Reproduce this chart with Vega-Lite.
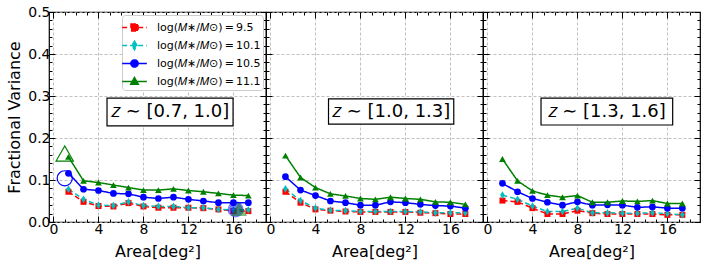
{
  "$schema": "https://vega.github.io/schema/vega-lite/v6.json",
  "padding": {"left": 6, "top": 4, "right": 2, "bottom": 2},
  "spacing": 0,
  "bounds": "flush",
  "datasets": {
    "d": [
      {"p":1,"m":"9.5","x":1.33,"y":0.072},{"p":1,"m":"9.5","x":2.67,"y":0.048},{"p":1,"m":"9.5","x":4,"y":0.038},{"p":1,"m":"9.5","x":5.33,"y":0.037},{"p":1,"m":"9.5","x":6.67,"y":0.045},{"p":1,"m":"9.5","x":8,"y":0.037},{"p":1,"m":"9.5","x":9.33,"y":0.034},{"p":1,"m":"9.5","x":10.67,"y":0.034},{"p":1,"m":"9.5","x":12,"y":0.034},{"p":1,"m":"9.5","x":13.33,"y":0.033},{"p":1,"m":"9.5","x":14.67,"y":0.030},{"p":1,"m":"9.5","x":16,"y":0.026},{"p":1,"m":"9.5","x":17.33,"y":0.026},
      {"p":1,"m":"10.1","x":1.33,"y":0.078},{"p":1,"m":"10.1","x":2.67,"y":0.054},{"p":1,"m":"10.1","x":4,"y":0.040},{"p":1,"m":"10.1","x":5.33,"y":0.039},{"p":1,"m":"10.1","x":6.67,"y":0.048},{"p":1,"m":"10.1","x":8,"y":0.039},{"p":1,"m":"10.1","x":9.33,"y":0.037},{"p":1,"m":"10.1","x":10.67,"y":0.037},{"p":1,"m":"10.1","x":12,"y":0.034},{"p":1,"m":"10.1","x":13.33,"y":0.034},{"p":1,"m":"10.1","x":14.67,"y":0.030},{"p":1,"m":"10.1","x":16,"y":0.029},{"p":1,"m":"10.1","x":17.33,"y":0.029},
      {"p":1,"m":"10.5","x":1.33,"y":0.116},{"p":1,"m":"10.5","x":2.67,"y":0.078},{"p":1,"m":"10.5","x":4,"y":0.075},{"p":1,"m":"10.5","x":5.33,"y":0.068},{"p":1,"m":"10.5","x":6.67,"y":0.067},{"p":1,"m":"10.5","x":8,"y":0.059},{"p":1,"m":"10.5","x":9.33,"y":0.056},{"p":1,"m":"10.5","x":10.67,"y":0.059},{"p":1,"m":"10.5","x":12,"y":0.054},{"p":1,"m":"10.5","x":13.33,"y":0.050},{"p":1,"m":"10.5","x":14.67,"y":0.046},{"p":1,"m":"10.5","x":16,"y":0.046},{"p":1,"m":"10.5","x":17.33,"y":0.046},
      {"p":1,"m":"11.1","x":1.33,"y":0.155},{"p":1,"m":"11.1","x":2.67,"y":0.098},{"p":1,"m":"11.1","x":4,"y":0.094},{"p":1,"m":"11.1","x":5.33,"y":0.088},{"p":1,"m":"11.1","x":6.67,"y":0.082},{"p":1,"m":"11.1","x":8,"y":0.076},{"p":1,"m":"11.1","x":9.33,"y":0.076},{"p":1,"m":"11.1","x":10.67,"y":0.079},{"p":1,"m":"11.1","x":12,"y":0.075},{"p":1,"m":"11.1","x":13.33,"y":0.072},{"p":1,"m":"11.1","x":14.67,"y":0.068},{"p":1,"m":"11.1","x":16,"y":0.064},{"p":1,"m":"11.1","x":17.33,"y":0.063},
      {"p":2,"m":"9.5","x":1.33,"y":0.072},{"p":2,"m":"9.5","x":2.67,"y":0.046},{"p":2,"m":"9.5","x":4,"y":0.030},{"p":2,"m":"9.5","x":5.33,"y":0.027},{"p":2,"m":"9.5","x":6.67,"y":0.025},{"p":2,"m":"9.5","x":8,"y":0.024},{"p":2,"m":"9.5","x":9.33,"y":0.024},{"p":2,"m":"9.5","x":10.67,"y":0.024},{"p":2,"m":"9.5","x":12,"y":0.024},{"p":2,"m":"9.5","x":13.33,"y":0.022},{"p":2,"m":"9.5","x":14.67,"y":0.021},{"p":2,"m":"9.5","x":16,"y":0.019},{"p":2,"m":"9.5","x":17.33,"y":0.019},
      {"p":2,"m":"10.1","x":1.33,"y":0.079},{"p":2,"m":"10.1","x":2.67,"y":0.051},{"p":2,"m":"10.1","x":4,"y":0.033},{"p":2,"m":"10.1","x":5.33,"y":0.028},{"p":2,"m":"10.1","x":6.67,"y":0.027},{"p":2,"m":"10.1","x":8,"y":0.025},{"p":2,"m":"10.1","x":9.33,"y":0.025},{"p":2,"m":"10.1","x":10.67,"y":0.025},{"p":2,"m":"10.1","x":12,"y":0.025},{"p":2,"m":"10.1","x":13.33,"y":0.024},{"p":2,"m":"10.1","x":14.67,"y":0.022},{"p":2,"m":"10.1","x":16,"y":0.022},{"p":2,"m":"10.1","x":17.33,"y":0.022},
      {"p":2,"m":"10.5","x":1.33,"y":0.108},{"p":2,"m":"10.5","x":2.67,"y":0.076},{"p":2,"m":"10.5","x":4,"y":0.063},{"p":2,"m":"10.5","x":5.33,"y":0.050},{"p":2,"m":"10.5","x":6.67,"y":0.046},{"p":2,"m":"10.5","x":8,"y":0.040},{"p":2,"m":"10.5","x":9.33,"y":0.040},{"p":2,"m":"10.5","x":10.67,"y":0.048},{"p":2,"m":"10.5","x":12,"y":0.046},{"p":2,"m":"10.5","x":13.33,"y":0.042},{"p":2,"m":"10.5","x":14.67,"y":0.039},{"p":2,"m":"10.5","x":16,"y":0.038},{"p":2,"m":"10.5","x":17.33,"y":0.033},
      {"p":2,"m":"11.1","x":1.33,"y":0.158},{"p":2,"m":"11.1","x":2.67,"y":0.106},{"p":2,"m":"11.1","x":4,"y":0.082},{"p":2,"m":"11.1","x":5.33,"y":0.067},{"p":2,"m":"11.1","x":6.67,"y":0.062},{"p":2,"m":"11.1","x":8,"y":0.056},{"p":2,"m":"11.1","x":9.33,"y":0.054},{"p":2,"m":"11.1","x":10.67,"y":0.059},{"p":2,"m":"11.1","x":12,"y":0.056},{"p":2,"m":"11.1","x":13.33,"y":0.054},{"p":2,"m":"11.1","x":14.67,"y":0.048},{"p":2,"m":"11.1","x":16,"y":0.047},{"p":2,"m":"11.1","x":17.33,"y":0.042},
      {"p":3,"m":"9.5","x":1.33,"y":0.051},{"p":3,"m":"9.5","x":2.67,"y":0.048},{"p":3,"m":"9.5","x":4,"y":0.033},{"p":3,"m":"9.5","x":5.33,"y":0.019},{"p":3,"m":"9.5","x":6.67,"y":0.019},{"p":3,"m":"9.5","x":8,"y":0.027},{"p":3,"m":"9.5","x":9.33,"y":0.021},{"p":3,"m":"9.5","x":10.67,"y":0.019},{"p":3,"m":"9.5","x":12,"y":0.019},{"p":3,"m":"9.5","x":13.33,"y":0.019},{"p":3,"m":"9.5","x":14.67,"y":0.019},{"p":3,"m":"9.5","x":16,"y":0.017},{"p":3,"m":"9.5","x":17.33,"y":0.017},
      {"p":3,"m":"10.1","x":1.33,"y":0.064},{"p":3,"m":"10.1","x":2.67,"y":0.054},{"p":3,"m":"10.1","x":4,"y":0.038},{"p":3,"m":"10.1","x":5.33,"y":0.025},{"p":3,"m":"10.1","x":6.67,"y":0.025},{"p":3,"m":"10.1","x":8,"y":0.033},{"p":3,"m":"10.1","x":9.33,"y":0.022},{"p":3,"m":"10.1","x":10.67,"y":0.022},{"p":3,"m":"10.1","x":12,"y":0.021},{"p":3,"m":"10.1","x":13.33,"y":0.021},{"p":3,"m":"10.1","x":14.67,"y":0.022},{"p":3,"m":"10.1","x":16,"y":0.020},{"p":3,"m":"10.1","x":17.33,"y":0.017},
      {"p":3,"m":"10.5","x":1.33,"y":0.092},{"p":3,"m":"10.5","x":2.67,"y":0.072},{"p":3,"m":"10.5","x":4,"y":0.056},{"p":3,"m":"10.5","x":5.33,"y":0.047},{"p":3,"m":"10.5","x":6.67,"y":0.040},{"p":3,"m":"10.5","x":8,"y":0.048},{"p":3,"m":"10.5","x":9.33,"y":0.040},{"p":3,"m":"10.5","x":10.67,"y":0.041},{"p":3,"m":"10.5","x":12,"y":0.040},{"p":3,"m":"10.5","x":13.33,"y":0.035},{"p":3,"m":"10.5","x":14.67,"y":0.036},{"p":3,"m":"10.5","x":16,"y":0.033},{"p":3,"m":"10.5","x":17.33,"y":0.033},
      {"p":3,"m":"11.1","x":1.33,"y":0.150},{"p":3,"m":"11.1","x":2.67,"y":0.098},{"p":3,"m":"11.1","x":4,"y":0.074},{"p":3,"m":"11.1","x":5.33,"y":0.064},{"p":3,"m":"11.1","x":6.67,"y":0.059},{"p":3,"m":"11.1","x":8,"y":0.063},{"p":3,"m":"11.1","x":9.33,"y":0.047},{"p":3,"m":"11.1","x":10.67,"y":0.047},{"p":3,"m":"11.1","x":12,"y":0.050},{"p":3,"m":"11.1","x":13.33,"y":0.049},{"p":3,"m":"11.1","x":14.67,"y":0.051},{"p":3,"m":"11.1","x":16,"y":0.044},{"p":3,"m":"11.1","x":17.33,"y":0.044}
    ],
    "big": [
      {"k":"tri_open","x":1.0,"y":0.163},
      {"k":"circ_open","x":1.0,"y":0.104},
      {"k":"circ_fill","x":16.2,"y":0.030},
      {"k":"tri_fill","x":16.5,"y":0.031}
    ]
  },
  "hconcat": [
    {
      "width": 217, "height": 210,
      "data": {"name": "d"},
      "transform": [{"filter": "datum.p == 1"}],
      "resolve": {"axis": {"x": "independent", "y": "independent"}},
      "layer": [
        {"mark": {"type": "point", "opacity": 0},
         "encoding": {
           "x": {"field": "x", "type": "quantitative", "scale": {"domain": [-0.4, 18.9], "nice": false, "zero": false},
                 "axis": {"orient": "bottom", "values": [0,4,8,12,16], "tickSize": -6, "labelPadding": 6, "grid": true, "title": "Area[deg²]", "titlePadding": 7}},
           "y": {"field": "y", "type": "quantitative", "scale": {"domain": [0, 0.5], "nice": false},
                 "axis": {"orient": "left", "values": [0,0.1,0.2,0.3,0.4,0.5], "format": ".1f", "tickSize": -6, "labelPadding": 5, "grid": true, "title": "Fractional Variance", "titlePadding": 5}}}},
        {"mark": {"type": "point", "opacity": 0},
         "encoding": {
           "x": {"field": "x", "type": "quantitative", "axis": {"orient": "bottom", "values": [0,1,2,3,4,5,6,7,8,9,10,11,12,13,14,15,16,17,18], "tickSize": -3, "labels": false, "grid": false, "title": null}},
           "y": {"field": "y", "type": "quantitative", "axis": {"orient": "left", "values": [0,0.02,0.04,0.06,0.08,0.1,0.12,0.14,0.16,0.18,0.2,0.22,0.24,0.26,0.28,0.3,0.32,0.34,0.36,0.38,0.4,0.42,0.44,0.46,0.48,0.5], "tickSize": -3, "labels": false, "grid": false, "title": null}}}},
        {"mark": {"type": "point", "opacity": 0},
         "encoding": {
           "x": {"field": "x", "type": "quantitative", "axis": {"orient": "top", "values": [0,4,8,12,16], "tickSize": -6, "labels": false, "grid": false, "title": null}},
           "y": {"field": "y", "type": "quantitative", "axis": {"orient": "right", "values": [0,0.1,0.2,0.3,0.4,0.5], "tickSize": -6, "labels": false, "grid": false, "title": null}}}},
        {"mark": {"type": "point", "opacity": 0},
         "encoding": {
           "x": {"field": "x", "type": "quantitative", "axis": {"orient": "top", "values": [0,1,2,3,4,5,6,7,8,9,10,11,12,13,14,15,16,17,18], "tickSize": -3, "labels": false, "grid": false, "title": null}},
           "y": {"field": "y", "type": "quantitative", "axis": {"orient": "right", "values": [0,0.02,0.04,0.06,0.08,0.1,0.12,0.14,0.16,0.18,0.2,0.22,0.24,0.26,0.28,0.3,0.32,0.34,0.36,0.38,0.4,0.42,0.44,0.46,0.48,0.5], "tickSize": -3, "labels": false, "grid": false, "title": null}}}},
        {"data": {"values": [{"label": "𝑧 ∼ [0.7, 1.0]"}]},
         "mark": {"type": "rect", "fill": "white", "stroke": "black", "strokeWidth": 1.2},
         "encoding": {"x": {"datum": 4.76, "type": "quantitative", "axis": null}, "x2": {"datum": 15.97}, "y": {"datum": 0.295, "type": "quantitative", "axis": null}, "y2": {"datum": 0.229}}},
        {"data": {"values": [{"label": "𝑧 ∼ [0.7, 1.0]"}]},
         "mark": {"type": "text", "fontSize": 18, "font": "DejaVu Sans", "color": "black", "align": "center", "baseline": "middle"},
         "encoding": {"x": {"datum": 10.37, "type": "quantitative", "axis": null}, "y": {"datum": 0.262, "type": "quantitative", "axis": null}, "text": {"field": "label"}}},
        {"mark": {"type": "line", "strokeWidth": 1.5},
         "encoding": {
           "x": {"field": "x", "type": "quantitative", "axis": null},
           "y": {"field": "y", "type": "quantitative", "axis": null},
           "color": {"field": "m", "type": "nominal", "scale": {"domain": ["9.5","10.1","10.5","11.1"], "range": ["#ff0000","#00bfbf","#0000ff","#008000"]},
             "legend": {"title": null, "orient": "top-right", "offset": 3, "padding": 2, "fillColor": "white", "strokeColor": "#cccccc", "cornerRadius": 3, "symbolSize": 361, "symbolStrokeWidth": 1.5, "labelFontSize": 11, "labelFont": "DejaVu Sans", "labelColor": "black", "labelOffset": 12, "rowPadding": 0,
               "labelExpr": "'log(𝑀∗/𝑀⊙)\u2009=\u2009' + datum.label",
               "encode": {"symbols": {"update": {
                 "shape": {"signal": "datum.value === '9.5' ? 'M-1.3,0H1.3M-0.37,-0.37H0.37V0.37H-0.37Z' : datum.value === '10.1' ? 'M-1.3,0H1.3M0,-0.45L0.27,0L0,0.45L-0.27,0Z' : datum.value === '10.5' ? 'M-1.3,0H1.3M-0.38,0A0.38,0.38 0 1,0 0.38,0A0.38,0.38 0 1,0 -0.38,0Z' : 'M-1.3,0H1.3M0,-0.42L0.4,0.3L-0.4,0.3Z'"},
                 "fill": {"signal": "datum.value === '9.5' ? '#ff0000' : datum.value === '10.1' ? '#00bfbf' : datum.value === '10.5' ? '#0000ff' : '#008000'"},
                 "fillOpacity": {"value": 1}}}}}},
           "strokeDash": {"field": "m", "type": "nominal", "scale": {"domain": ["9.5","10.1","10.5","11.1"], "range": [[5,3],[5,3],[1,0],[1,0]]}},
           "detail": {"field": "m"}}},
        {"transform": [{"filter": "datum.m == '9.5'"}],
         "mark": {"type": "point", "shape": "square", "filled": true, "color": "#ff0000", "size": 36, "opacity": 1},
         "encoding": {"x": {"field": "x", "type": "quantitative", "axis": null}, "y": {"field": "y", "type": "quantitative", "axis": null}}},
        {"transform": [{"filter": "datum.m == '10.1'"}],
         "mark": {"type": "point", "shape": "M0,-1L0.6,0L0,1L-0.6,0Z", "filled": true, "color": "#00bfbf", "size": 60, "opacity": 1},
         "encoding": {"x": {"field": "x", "type": "quantitative", "axis": null}, "y": {"field": "y", "type": "quantitative", "axis": null}}},
        {"transform": [{"filter": "datum.m == '10.5'"}],
         "mark": {"type": "point", "shape": "circle", "filled": true, "color": "#0000ff", "size": 45, "opacity": 1},
         "encoding": {"x": {"field": "x", "type": "quantitative", "axis": null}, "y": {"field": "y", "type": "quantitative", "axis": null}}},
        {"transform": [{"filter": "datum.m == '11.1'"}],
         "mark": {"type": "point", "shape": "triangle-up", "filled": true, "color": "#008000", "size": 45, "opacity": 1},
         "encoding": {"x": {"field": "x", "type": "quantitative", "axis": null}, "y": {"field": "y", "type": "quantitative", "axis": null}}},
        {"data": {"name": "big"}, "transform": [{"filter": "datum.k == 'tri_open'"}],
         "mark": {"type": "point", "shape": "triangle-up", "filled": false, "color": "#008000", "size": 300, "strokeWidth": 1.2, "opacity": 1},
         "encoding": {"x": {"field": "x", "type": "quantitative", "axis": null}, "y": {"field": "y", "type": "quantitative", "axis": null}}},
        {"data": {"name": "big"}, "transform": [{"filter": "datum.k == 'circ_open'"}],
         "mark": {"type": "point", "shape": "circle", "filled": false, "color": "#0000ff", "size": 230, "strokeWidth": 1.2, "opacity": 1},
         "encoding": {"x": {"field": "x", "type": "quantitative", "axis": null}, "y": {"field": "y", "type": "quantitative", "axis": null}}},
        {"data": {"name": "big"}, "transform": [{"filter": "datum.k == 'circ_fill'"}],
         "mark": {"type": "point", "shape": "circle", "filled": true, "color": "#0000ff", "size": 260, "opacity": 0.5},
         "encoding": {"x": {"field": "x", "type": "quantitative", "axis": null}, "y": {"field": "y", "type": "quantitative", "axis": null}}},
        {"data": {"name": "big"}, "transform": [{"filter": "datum.k == 'tri_fill'"}],
         "mark": {"type": "point", "shape": "triangle-up", "filled": true, "color": "#008000", "size": 260, "opacity": 0.5},
         "encoding": {"x": {"field": "x", "type": "quantitative", "axis": null}, "y": {"field": "y", "type": "quantitative", "axis": null}}}
      ]
    },
    {
      "width": 217, "height": 210,
      "data": {"name": "d"},
      "transform": [{"filter": "datum.p == 2"}],
      "resolve": {"axis": {"x": "independent", "y": "independent"}},
      "layer": [
        {"mark": {"type": "point", "opacity": 0},
         "encoding": {
           "x": {"field": "x", "type": "quantitative", "scale": {"domain": [-0.4, 18.9], "nice": false, "zero": false},
                 "axis": {"orient": "bottom", "values": [0,4,8,12,16], "tickSize": -6, "labelPadding": 6, "grid": true, "title": "Area[deg²]", "titlePadding": 7}},
           "y": {"field": "y", "type": "quantitative", "scale": {"domain": [0, 0.5], "nice": false},
                 "axis": {"orient": "left", "values": [0,0.1,0.2,0.3,0.4,0.5], "tickSize": -6, "labels": false, "grid": true, "title": null}}}},
        {"mark": {"type": "point", "opacity": 0},
         "encoding": {
           "x": {"field": "x", "type": "quantitative", "axis": {"orient": "bottom", "values": [0,1,2,3,4,5,6,7,8,9,10,11,12,13,14,15,16,17,18], "tickSize": -3, "labels": false, "grid": false, "title": null}},
           "y": {"field": "y", "type": "quantitative", "axis": {"orient": "left", "values": [0,0.02,0.04,0.06,0.08,0.1,0.12,0.14,0.16,0.18,0.2,0.22,0.24,0.26,0.28,0.3,0.32,0.34,0.36,0.38,0.4,0.42,0.44,0.46,0.48,0.5], "tickSize": -3, "labels": false, "grid": false, "title": null}}}},
        {"mark": {"type": "point", "opacity": 0},
         "encoding": {
           "x": {"field": "x", "type": "quantitative", "axis": {"orient": "top", "values": [0,4,8,12,16], "tickSize": -6, "labels": false, "grid": false, "title": null}},
           "y": {"field": "y", "type": "quantitative", "axis": {"orient": "right", "values": [0,0.1,0.2,0.3,0.4,0.5], "tickSize": -6, "labels": false, "grid": false, "title": null}}}},
        {"mark": {"type": "point", "opacity": 0},
         "encoding": {
           "x": {"field": "x", "type": "quantitative", "axis": {"orient": "top", "values": [0,1,2,3,4,5,6,7,8,9,10,11,12,13,14,15,16,17,18], "tickSize": -3, "labels": false, "grid": false, "title": null}},
           "y": {"field": "y", "type": "quantitative", "axis": {"orient": "right", "values": [0,0.02,0.04,0.06,0.08,0.1,0.12,0.14,0.16,0.18,0.2,0.22,0.24,0.26,0.28,0.3,0.32,0.34,0.36,0.38,0.4,0.42,0.44,0.46,0.48,0.5], "tickSize": -3, "labels": false, "grid": false, "title": null}}}},
        {"data": {"values": [{"label": "𝑧 ∼ [1.0, 1.3]"}]},
         "mark": {"type": "rect", "fill": "white", "stroke": "black", "strokeWidth": 1.2},
         "encoding": {"x": {"datum": 5.16, "type": "quantitative", "axis": null}, "x2": {"datum": 16.3}, "y": {"datum": 0.293, "type": "quantitative", "axis": null}, "y2": {"datum": 0.233}}},
        {"data": {"values": [{"label": "𝑧 ∼ [1.0, 1.3]"}]},
         "mark": {"type": "text", "fontSize": 18, "font": "DejaVu Sans", "color": "black", "align": "center", "baseline": "middle"},
         "encoding": {"x": {"datum": 10.73, "type": "quantitative", "axis": null}, "y": {"datum": 0.262, "type": "quantitative", "axis": null}, "text": {"field": "label"}}},
        {"mark": {"type": "line", "strokeWidth": 1.5},
         "encoding": {
           "x": {"field": "x", "type": "quantitative", "axis": null},
           "y": {"field": "y", "type": "quantitative", "axis": null},
           "color": {"field": "m", "type": "nominal", "scale": {"domain": ["9.5","10.1","10.5","11.1"], "range": ["#ff0000","#00bfbf","#0000ff","#008000"]}, "legend": null},
           "strokeDash": {"field": "m", "type": "nominal", "scale": {"domain": ["9.5","10.1","10.5","11.1"], "range": [[5,3],[5,3],[1,0],[1,0]]}, "legend": null},
           "detail": {"field": "m"}}},
        {"transform": [{"filter": "datum.m == '9.5'"}],
         "mark": {"type": "point", "shape": "square", "filled": true, "color": "#ff0000", "size": 36, "opacity": 1},
         "encoding": {"x": {"field": "x", "type": "quantitative", "axis": null}, "y": {"field": "y", "type": "quantitative", "axis": null}}},
        {"transform": [{"filter": "datum.m == '10.1'"}],
         "mark": {"type": "point", "shape": "M0,-1L0.6,0L0,1L-0.6,0Z", "filled": true, "color": "#00bfbf", "size": 60, "opacity": 1},
         "encoding": {"x": {"field": "x", "type": "quantitative", "axis": null}, "y": {"field": "y", "type": "quantitative", "axis": null}}},
        {"transform": [{"filter": "datum.m == '10.5'"}],
         "mark": {"type": "point", "shape": "circle", "filled": true, "color": "#0000ff", "size": 45, "opacity": 1},
         "encoding": {"x": {"field": "x", "type": "quantitative", "axis": null}, "y": {"field": "y", "type": "quantitative", "axis": null}}},
        {"transform": [{"filter": "datum.m == '11.1'"}],
         "mark": {"type": "point", "shape": "triangle-up", "filled": true, "color": "#008000", "size": 45, "opacity": 1},
         "encoding": {"x": {"field": "x", "type": "quantitative", "axis": null}, "y": {"field": "y", "type": "quantitative", "axis": null}}}
      ]
    },
    {
      "width": 217, "height": 210,
      "data": {"name": "d"},
      "transform": [{"filter": "datum.p == 3"}],
      "resolve": {"axis": {"x": "independent", "y": "independent"}},
      "layer": [
        {"mark": {"type": "point", "opacity": 0},
         "encoding": {
           "x": {"field": "x", "type": "quantitative", "scale": {"domain": [-0.4, 18.9], "nice": false, "zero": false},
                 "axis": {"orient": "bottom", "values": [0,4,8,12,16], "tickSize": -6, "labelPadding": 6, "grid": true, "title": "Area[deg²]", "titlePadding": 7}},
           "y": {"field": "y", "type": "quantitative", "scale": {"domain": [0, 0.5], "nice": false},
                 "axis": {"orient": "left", "values": [0,0.1,0.2,0.3,0.4,0.5], "tickSize": -6, "labels": false, "grid": true, "title": null}}}},
        {"mark": {"type": "point", "opacity": 0},
         "encoding": {
           "x": {"field": "x", "type": "quantitative", "axis": {"orient": "bottom", "values": [0,1,2,3,4,5,6,7,8,9,10,11,12,13,14,15,16,17,18], "tickSize": -3, "labels": false, "grid": false, "title": null}},
           "y": {"field": "y", "type": "quantitative", "axis": {"orient": "left", "values": [0,0.02,0.04,0.06,0.08,0.1,0.12,0.14,0.16,0.18,0.2,0.22,0.24,0.26,0.28,0.3,0.32,0.34,0.36,0.38,0.4,0.42,0.44,0.46,0.48,0.5], "tickSize": -3, "labels": false, "grid": false, "title": null}}}},
        {"mark": {"type": "point", "opacity": 0},
         "encoding": {
           "x": {"field": "x", "type": "quantitative", "axis": {"orient": "top", "values": [0,4,8,12,16], "tickSize": -6, "labels": false, "grid": false, "title": null}},
           "y": {"field": "y", "type": "quantitative", "axis": {"orient": "right", "values": [0,0.1,0.2,0.3,0.4,0.5], "tickSize": -6, "labels": false, "grid": false, "title": null}}}},
        {"mark": {"type": "point", "opacity": 0},
         "encoding": {
           "x": {"field": "x", "type": "quantitative", "axis": {"orient": "top", "values": [0,1,2,3,4,5,6,7,8,9,10,11,12,13,14,15,16,17,18], "tickSize": -3, "labels": false, "grid": false, "title": null}},
           "y": {"field": "y", "type": "quantitative", "axis": {"orient": "right", "values": [0,0.02,0.04,0.06,0.08,0.1,0.12,0.14,0.16,0.18,0.2,0.22,0.24,0.26,0.28,0.3,0.32,0.34,0.36,0.38,0.4,0.42,0.44,0.46,0.48,0.5], "tickSize": -3, "labels": false, "grid": false, "title": null}}}},
        {"data": {"values": [{"label": "𝑧 ∼ [1.3, 1.6]"}]},
         "mark": {"type": "rect", "fill": "white", "stroke": "black", "strokeWidth": 1.2},
         "encoding": {"x": {"datum": 4.76, "type": "quantitative", "axis": null}, "x2": {"datum": 16.47}, "y": {"datum": 0.295, "type": "quantitative", "axis": null}, "y2": {"datum": 0.231}}},
        {"data": {"values": [{"label": "𝑧 ∼ [1.3, 1.6]"}]},
         "mark": {"type": "text", "fontSize": 18, "font": "DejaVu Sans", "color": "black", "align": "center", "baseline": "middle"},
         "encoding": {"x": {"datum": 10.6, "type": "quantitative", "axis": null}, "y": {"datum": 0.263, "type": "quantitative", "axis": null}, "text": {"field": "label"}}},
        {"mark": {"type": "line", "strokeWidth": 1.5},
         "encoding": {
           "x": {"field": "x", "type": "quantitative", "axis": null},
           "y": {"field": "y", "type": "quantitative", "axis": null},
           "color": {"field": "m", "type": "nominal", "scale": {"domain": ["9.5","10.1","10.5","11.1"], "range": ["#ff0000","#00bfbf","#0000ff","#008000"]}, "legend": null},
           "strokeDash": {"field": "m", "type": "nominal", "scale": {"domain": ["9.5","10.1","10.5","11.1"], "range": [[5,3],[5,3],[1,0],[1,0]]}, "legend": null},
           "detail": {"field": "m"}}},
        {"transform": [{"filter": "datum.m == '9.5'"}],
         "mark": {"type": "point", "shape": "square", "filled": true, "color": "#ff0000", "size": 36, "opacity": 1},
         "encoding": {"x": {"field": "x", "type": "quantitative", "axis": null}, "y": {"field": "y", "type": "quantitative", "axis": null}}},
        {"transform": [{"filter": "datum.m == '10.1'"}],
         "mark": {"type": "point", "shape": "M0,-1L0.6,0L0,1L-0.6,0Z", "filled": true, "color": "#00bfbf", "size": 60, "opacity": 1},
         "encoding": {"x": {"field": "x", "type": "quantitative", "axis": null}, "y": {"field": "y", "type": "quantitative", "axis": null}}},
        {"transform": [{"filter": "datum.m == '10.5'"}],
         "mark": {"type": "point", "shape": "circle", "filled": true, "color": "#0000ff", "size": 45, "opacity": 1},
         "encoding": {"x": {"field": "x", "type": "quantitative", "axis": null}, "y": {"field": "y", "type": "quantitative", "axis": null}}},
        {"transform": [{"filter": "datum.m == '11.1'"}],
         "mark": {"type": "point", "shape": "triangle-up", "filled": true, "color": "#008000", "size": 45, "opacity": 1},
         "encoding": {"x": {"field": "x", "type": "quantitative", "axis": null}, "y": {"field": "y", "type": "quantitative", "axis": null}}}
      ]
    }
  ],
  "resolve": {"scale": {"color": "independent", "strokeDash": "independent"}, "legend": {"color": "independent", "strokeDash": "independent"}},
  "config": {
    "font": "DejaVu Sans",
    "view": {"stroke": "black", "strokeWidth": 1.2},
    "axis": {"domain": false, "labelFont": "DejaVu Sans", "labelFontSize": 14, "labelColor": "black", "titleFont": "DejaVu Sans", "titleFontSize": 16, "titleFontWeight": "normal", "titleColor": "black", "tickColor": "black", "tickWidth": 1, "gridColor": "#b0b0b0", "gridDash": [3, 2], "gridWidth": 0.8}
  }
}
